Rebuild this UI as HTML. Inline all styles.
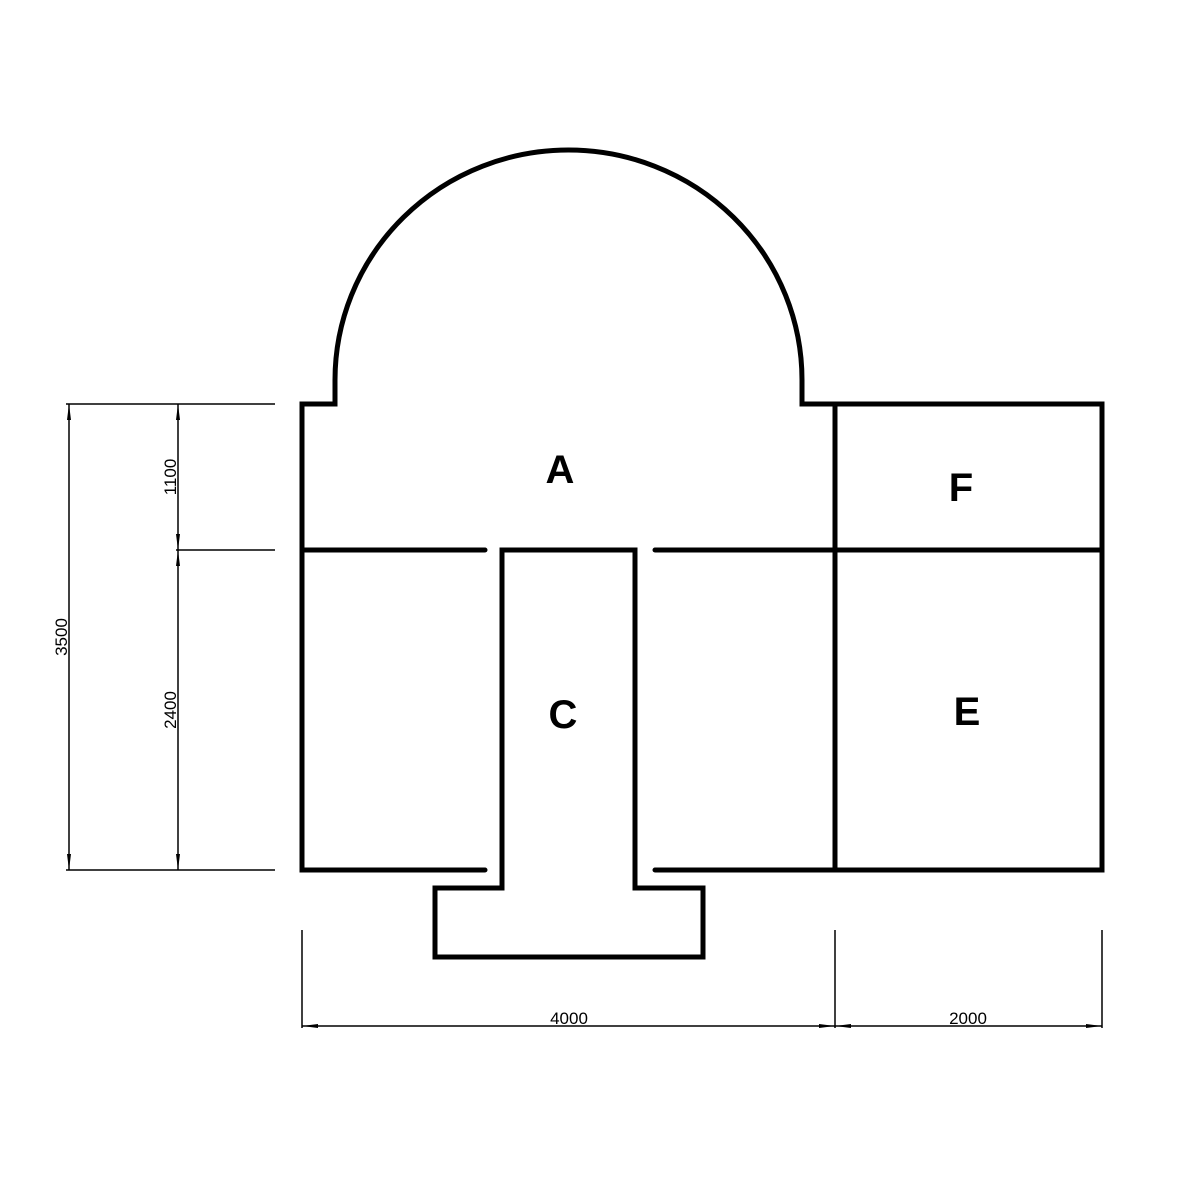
<!DOCTYPE html>
<html><head><meta charset="utf-8"><style>
html,body{margin:0;padding:0;background:#fff;width:1200px;height:1200px;overflow:hidden}
svg{display:block}
</style></head><body>
<svg width="1200" height="1200" viewBox="0 0 1200 1200" xmlns="http://www.w3.org/2000/svg">
<g fill="none" stroke="#000" stroke-width="5" stroke-linecap="round" stroke-linejoin="miter">
<path d="M485,870 L302,870 L302,404 L335,404 L335,380 A233.5,230 0 0 1 802,380 L802,404 L1102,404 L1102,870 L655,870"/>
<line x1="835" y1="404" x2="835" y2="870"/>
<line x1="302" y1="550" x2="485" y2="550"/>
<line x1="655" y1="550" x2="1102" y2="550"/>
<path d="M502,888 L502,550 L635,550 L635,888 L703,888 L703,957 L435,957 L435,888 Z"/>
</g>
<g stroke="#000" stroke-width="1.5" fill="none">
<line x1="66" y1="404" x2="275" y2="404"/>
<line x1="176" y1="550" x2="275" y2="550"/>
<line x1="66" y1="870" x2="275" y2="870"/>
<line x1="69" y1="404" x2="69" y2="870"/>
<line x1="178" y1="404" x2="178" y2="870"/>
<line x1="302" y1="930" x2="302" y2="1028"/>
<line x1="835" y1="930" x2="835" y2="1028"/>
<line x1="1102" y1="930" x2="1102" y2="1028"/>
<line x1="302" y1="1026" x2="1102" y2="1026"/>
</g>
<g fill="#000">
<polygon points="69,404 67,420 71,420"/>
<polygon points="69,870 67,854 71,854"/>
<polygon points="178,404 176,420 180,420"/>
<polygon points="178,550 176,534 180,534"/>
<polygon points="178,550 176,566 180,566"/>
<polygon points="178,870 176,854 180,854"/>
<polygon points="302,1026 318,1024 318,1028"/>
<polygon points="835,1026 819,1024 819,1028"/>
<polygon points="835,1026 851,1024 851,1028"/>
<polygon points="1102,1026 1086,1024 1086,1028"/>
</g>
<g font-family="Liberation Sans, sans-serif" font-size="17" fill="#000" text-anchor="middle">
<text transform="translate(67,637) rotate(-90)">3500</text>
<text transform="translate(176,477) rotate(-90)">1100</text>
<text transform="translate(176,710) rotate(-90)">2400</text>
<text x="569" y="1024">4000</text>
<text x="968" y="1024">2000</text>
</g>
<g font-family="Liberation Sans, sans-serif" font-weight="bold" font-size="40" fill="#000" text-anchor="middle">
<text x="560" y="483">A</text>
<text x="961" y="501">F</text>
<text x="563" y="728">C</text>
<text x="967" y="725">E</text>
</g>
</svg>
</body></html>
